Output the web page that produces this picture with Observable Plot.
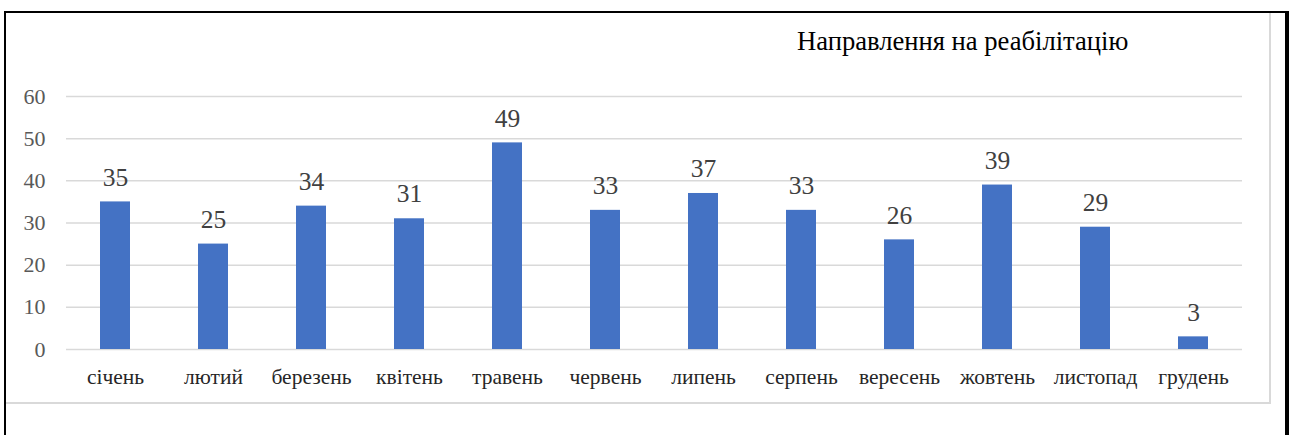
<!DOCTYPE html>
<html>
<head>
<meta charset="utf-8">
<script src="https://cdn.jsdelivr.net/npm/d3@7"></script>
<script src="https://cdn.jsdelivr.net/npm/@observablehq/plot@0.6"></script>
<style>
  html, body { margin: 0; padding: 0; background: #fff; }
  #wrap { position: relative; width: 1297px; height: 435px; overflow: hidden; font-family: "Liberation Serif", "Times New Roman", serif; }
  #chart { position: absolute; left: 0; top: 0; }
  #chart svg, #chart svg text { font-family: "Liberation Serif", "Times New Roman", serif !important; }
  .bl { position: absolute; background: #000; }
  .gl { position: absolute; background: #d9d9d9; }
  #title { position: absolute; left: 797px; top: 28px; font-size: 26.6px; color: #000; white-space: nowrap; line-height: 1; }
</style>
</head>
<body>
<div id="wrap">
  <div id="chart"></div>
  <div class="gl" style="left:1269px; top:12px; width:2px; height:392px;"></div>
  <div class="gl" style="left:5px; top:402px; width:1266px; height:2px;"></div>
  <div class="bl" style="left:4px; top:11px; width:1285px; height:2px;"></div>
  <div class="bl" style="left:4px; top:11px; width:2px; height:424px;"></div>
  <div class="bl" style="left:1285px; top:11px; width:4px; height:424px;"></div>
  <div id="title">Направлення на реабілітацію</div>
</div>
<script>
const months = ["січень","лютий","березень","квітень","травень","червень","липень","серпень","вересень","жовтень","листопад","грудень"];
const counts = [35, 25, 34, 31, 49, 33, 37, 33, 26, 39, 29, 3];
const yTicks = [0, 10, 20, 30, 40, 50, 60];

const data = months.map((m, i) => ({month: m, value: counts[i]}));
const font = '"Liberation Serif", "Times New Roman", serif';

const chart = Plot.plot({
  width: 1297,
  height: 435,
  marginLeft: 66,
  marginRight: 55,
  marginTop: 96,
  marginBottom: 86,
  style: {fontFamily: font, background: "transparent", overflow: "visible"},
  x: {domain: months, paddingInner: 0.69, paddingOuter: 0.345, label: null},
  y: {domain: [0, 60], label: null},
  marks: [
    Plot.ruleY(yTicks, {stroke: "#d9d9d9", strokeWidth: 1.5}),
    Plot.barY(data, {x: "month", y: "value", fill: "#4472c4"}),
    Plot.text(data, {x: "month", y: "value", text: d => String(d.value), dy: -24.5, fill: "#404040", fontSize: 25.5, fontFamily: font}),
    Plot.axisY(yTicks, {tickSize: 0, tickPadding: 21, fontSize: 22, color: "#595959", label: null, tickFormat: d => String(d), fontFamily: font}),
    Plot.axisX({tickSize: 0, tickPadding: 19, fontSize: 21.5, color: "#262626", label: null, fontFamily: font})
  ]
});
document.getElementById("chart").appendChild(chart);
</script>
</body>
</html>
